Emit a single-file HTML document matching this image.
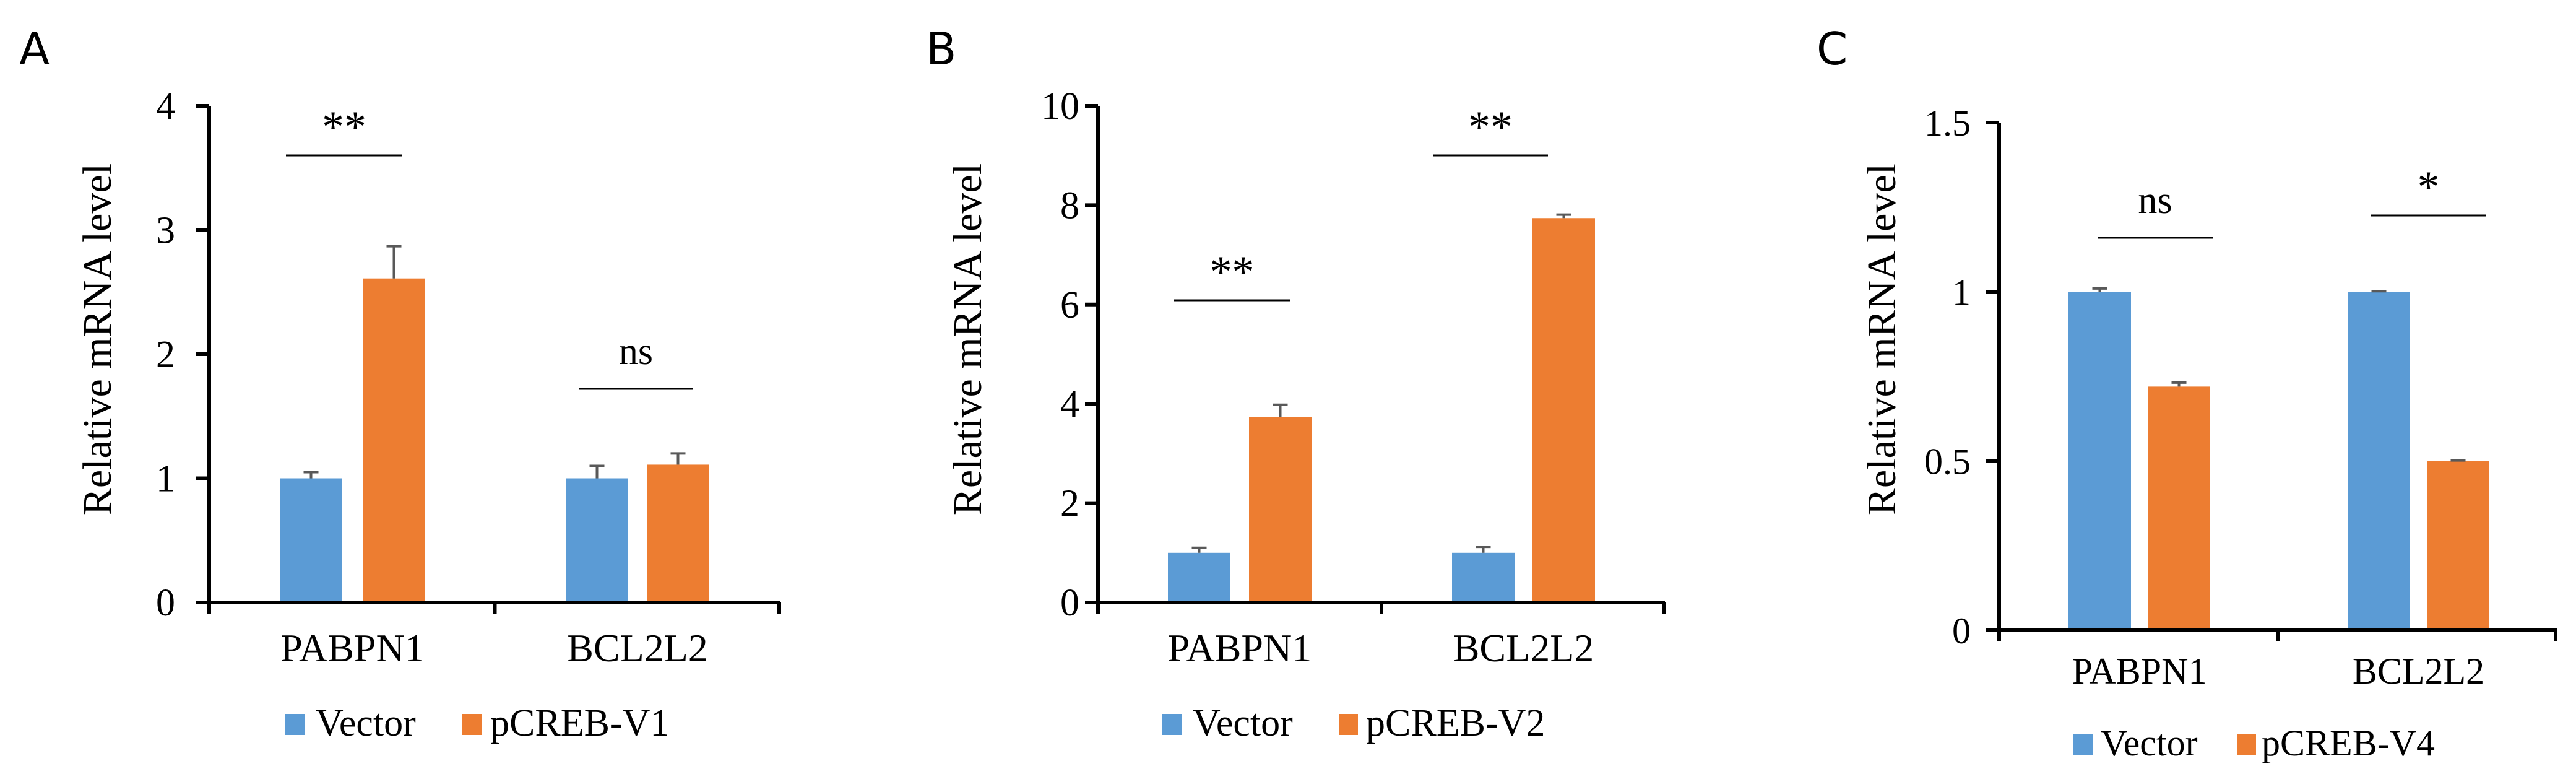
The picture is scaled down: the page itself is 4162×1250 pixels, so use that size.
<!DOCTYPE html>
<html><head><meta charset="utf-8"><style>
html,body{margin:0;padding:0;background:#fff;width:4162px;height:1250px;overflow:hidden}
svg{display:block}
.serif{font-family:"Liberation Serif",serif;fill:#000}
.sans{font-family:"DejaVu Sans","Liberation Sans",sans-serif;fill:#000}
</style></head><body>
<svg id="fig" width="4162" height="1250" viewBox="0 0 4162 1250" xmlns="http://www.w3.org/2000/svg"></svg>
<script>
// ---- data ----
const categories = ["PABPN1", "BCL2L2"];
const seriesNames = ["Vector", "pCREB-V1", "pCREB-V2", "pCREB-V4"];
const aVector = [1.0, 1.0];
const aVectorErr = [0.05, 0.10];
const aTreat = [2.61, 1.11];
const aTreatErr = [0.26, 0.09];
const aSig = ["**", "ns"];
const aTicks = [0, 1, 2, 3, 4];
const bVector = [1.0, 1.0];
const bVectorErr = [0.10, 0.12];
const bTreat = [3.73, 7.74];
const bTreatErr = [0.25, 0.07];
const bSig = ["**", "**"];
const bTicks = [0, 2, 4, 6, 8, 10];
const cVector = [1.0, 1.0];
const cVectorErr = [0.01, 0.002];
const cTreat = [0.72, 0.50];
const cTreatErr = [0.012, 0.002];
const cSig = ["ns", "*"];
const cTicks = [0, 0.5, 1, 1.5];
const cTickLabels = ["0", "0.5", "1", "1.5"];

const NS = "http://www.w3.org/2000/svg";
const svg = document.getElementById("fig");
function mk(tag, attrs, parent, text) {
  const e = document.createElementNS(NS, tag);
  for (const k in attrs) e.setAttribute(k, attrs[k]);
  if (text !== undefined) e.textContent = text;
  (parent || svg).appendChild(e);
  return e;
}

const panels = [
  {id:"a", letter:"A", lx:31, ax:338, y0:973, yTop:171, xEnd:1261, vMax:4, ticks:aTicks, tickLabels:aTicks.map(String),
   vec:aVector, vecErr:aVectorErr, trt:aTreat, trtErr:aTreatErr, sig:aSig, sigY:[251,628], sigX:[[462,650],[935,1120]],
   barL:[[452,586],[914,1045]], barW:101, tickRight:283, titleX:157, tfs:62, cfs:64, catY:1068, lfs:62, legY:1188,
   legSq:[461,747], legTx:[510,792], treatName:seriesNames[1]},
  {id:"b", letter:"B", lx:1496, ax:1774, y0:973, yTop:171, xEnd:2690, vMax:10, ticks:bTicks, tickLabels:bTicks.map(String),
   vec:bVector, vecErr:bVectorErr, trt:bTreat, trtErr:bTreatErr, sig:bSig, sigY:[485,251], sigX:[[1897,2084],[2315,2501]],
   barL:[[1887,2018],[2346,2476]], barW:101, tickRight:1744, titleX:1563, tfs:62, cfs:64, catY:1068, lfs:62, legY:1188,
   legSq:[1878,2163], legTx:[1927,2207], treatName:seriesNames[2]},
  {id:"c", letter:"C", lx:2935, ax:3230, y0:1018, yTop:198, xEnd:4131, vMax:1.5, ticks:cTicks, tickLabels:cTickLabels,
   vec:cVector, vecErr:cVectorErr, trt:cTreat, trtErr:cTreatErr, sig:cSig, sigY:[384,348], sigX:[[3389,3575],[3831,4016]],
   barL:[[3342,3470],[3793,3921]], barW:101, tickRight:3184, titleX:3040, tfs:60, cfs:60, catY:1104, lfs:60, legY:1220,
   legSq:[3350,3614], legTx:[3394,3654], treatName:seriesNames[3]}
];

panels.forEach(p => {
  const g = mk("g", {});
  
  
  const y = v => p.y0 - (v / p.vMax) * (p.y0 - p.yTop);

  const letter = mk("text", {x:p.lx, y:104, class:"sans", "font-size":72}, g, p.letter);
  
  

  for (let i = 0; i < categories.length; i++) {
    [[p.vec, p.vecErr, "#5b9bd5", "vector"], [p.trt, p.trtErr, "#ed7d31", "treat"]].forEach((s, j) => {
      const v = s[0][i], e = s[1][i];
      const x = p.barL[i][j];
      const r = mk("rect", {x:x, y:y(v), width:p.barW, height:p.y0 - y(v), fill:s[2]}, g);
      
      
      const cx = x + p.barW / 2;
      const eg = mk("g", {stroke:"#595959", "stroke-width":4}, g);
      
      
      mk("line", {x1:cx, x2:cx, y1:y(v), y2:y(v + e)}, eg);
      mk("line", {x1:cx - 12, x2:cx + 12, y1:y(v + e), y2:y(v + e)}, eg);
    });
    const sl = mk("line", {x1:p.sigX[i][0], x2:p.sigX[i][1], y1:p.sigY[i], y2:p.sigY[i], stroke:"#000", "stroke-width":3}, g);
    
    
    const isNs = p.sig[i] === "ns";
    const st = mk("text", {x:(p.sigX[i][0] + p.sigX[i][1]) / 2, y:p.sigY[i] - (isNs ? 40 : 22), class:"serif", "font-size":isNs ? 62 : 72, "text-anchor":"middle"}, g, p.sig[i]);
    
    
    const cl = mk("text", {x:(p.barL[i][0] + p.barL[i][1] + p.barW) / 2, y:p.catY, class:"serif", "font-size":p.cfs, "text-anchor":"middle"}, g, categories[i]);
    
    
  }

  const ax = mk("g", {stroke:"#000", "stroke-width":6}, g);
  
  
  mk("line", {x1:p.ax, x2:p.ax, y1:p.yTop, y2:p.y0 + 18}, ax);
  mk("line", {x1:p.ax - 21, x2:p.xEnd, y1:p.y0, y2:p.y0}, ax);
  mk("line", {x1:(p.ax + p.xEnd) / 2, x2:(p.ax + p.xEnd) / 2, y1:p.y0, y2:p.y0 + 18}, ax);
  mk("line", {x1:p.xEnd - 2, x2:p.xEnd - 2, y1:p.y0, y2:p.y0 + 18}, ax);
  p.ticks.forEach((t, k) => {
    mk("line", {x1:p.ax - 21, x2:p.ax, y1:y(t), y2:y(t)}, ax);
    const tl = mk("text", {x:p.tickRight, y:y(t) + 21, class:"serif", "font-size":p.tfs, "text-anchor":"end"}, g, p.tickLabels[k]);
    
    
  });
  const yt = mk("text", {x:0, y:0, class:"serif", "font-size":66, "text-anchor":"middle",
    transform:"translate(" + (p.titleX + 22) + ",548) rotate(-90)"}, g, "Relative mRNA level");
  
  

  [["#5b9bd5", seriesNames[0], "vector"], ["#ed7d31", p.treatName, "treatment"]].forEach((L, k) => {
    const lg = mk("g", {}, g);
    
    
    mk("rect", {x:p.legSq[k], y:p.legY - 35, width:31, height:34, fill:L[0]}, lg);
    mk("text", {x:p.legTx[k], y:p.legY, class:"serif", "font-size":p.lfs}, lg, L[1]);
  });
});
</script>
</body></html>
